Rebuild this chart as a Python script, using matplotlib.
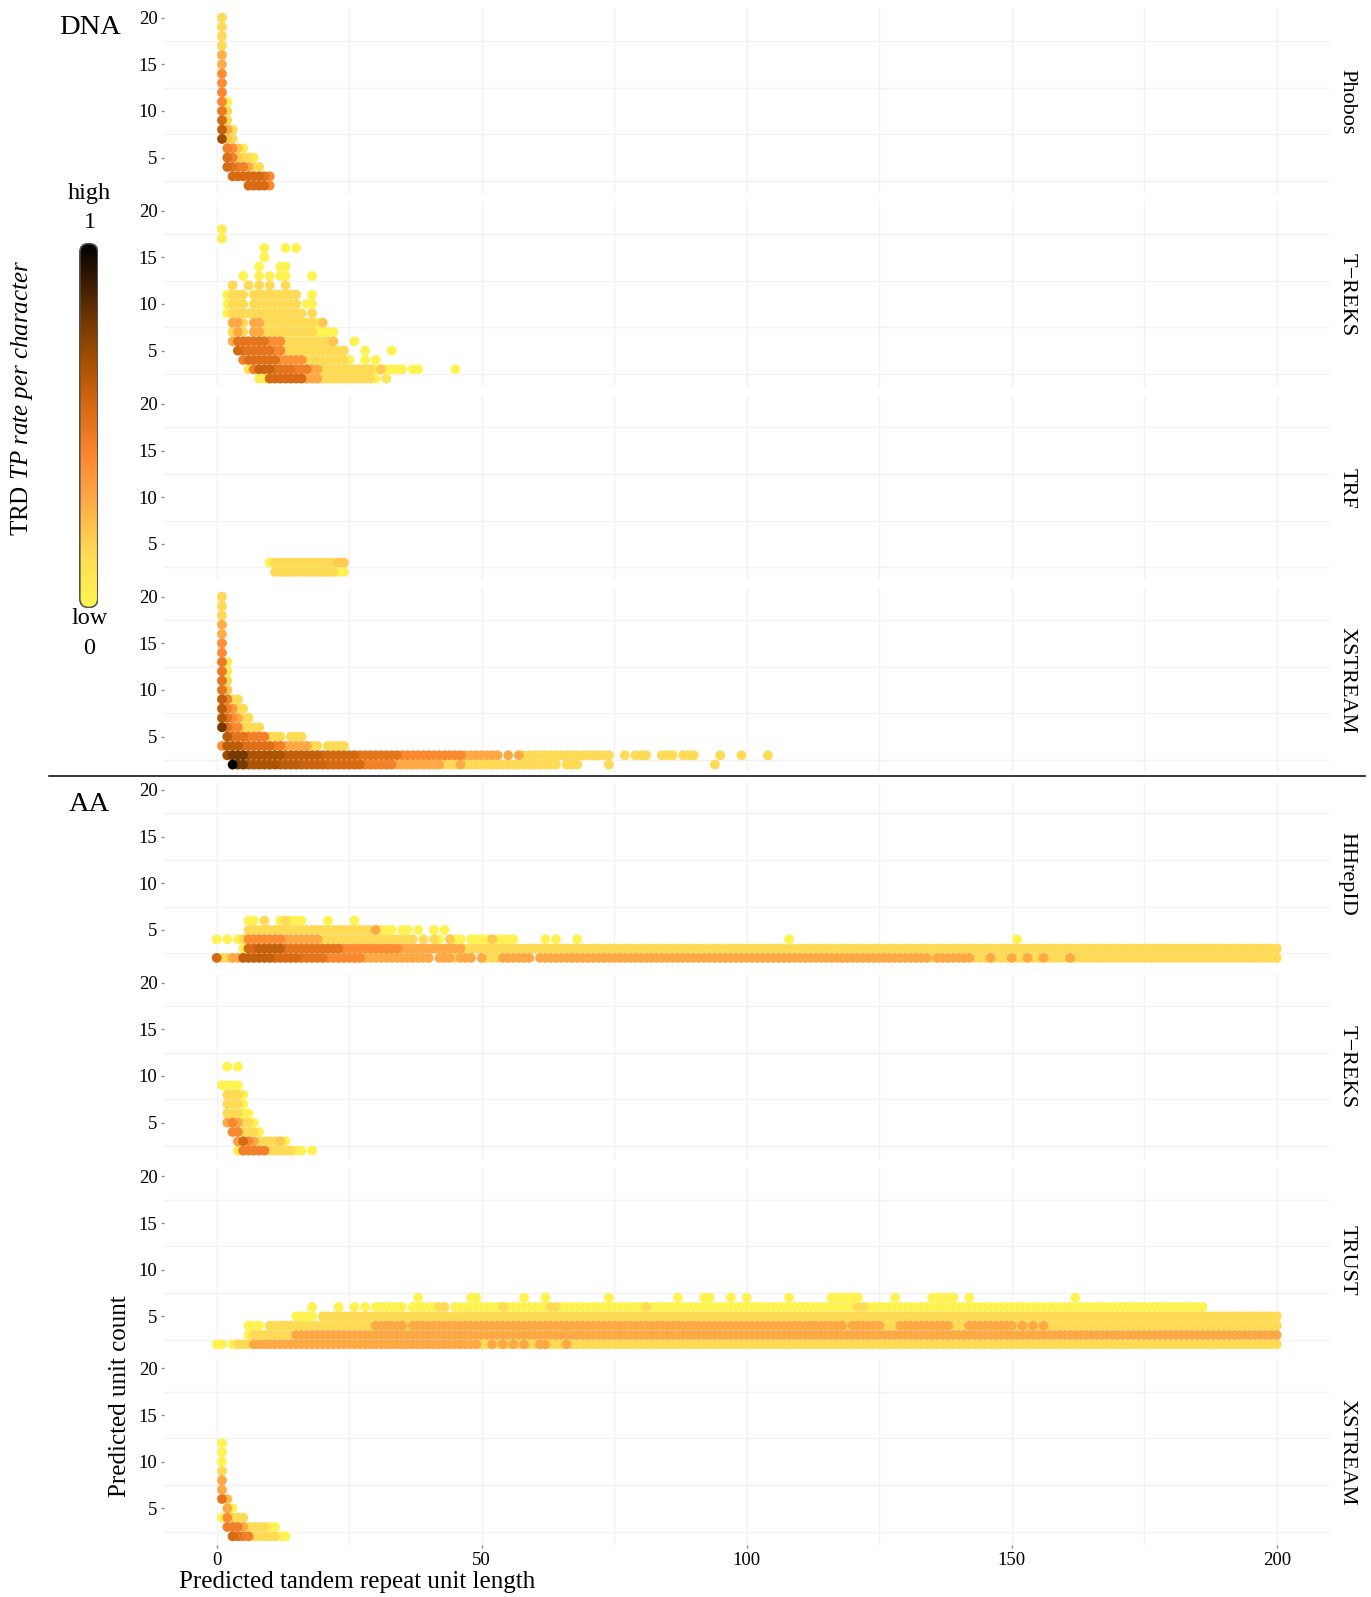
import numpy as np
import matplotlib
matplotlib.use("Agg")
import matplotlib.pyplot as plt
from matplotlib.colors import LinearSegmentedColormap
from matplotlib.patches import FancyBboxPatch
from matplotlib.lines import Line2D

plt.rcParams['font.family'] = ['Liberation Serif', 'DejaVu Serif']
plt.rcParams['mathtext.fontset'] = 'custom'
plt.rcParams['mathtext.rm'] = 'Liberation Serif'
plt.rcParams['mathtext.it'] = 'Liberation Serif:italic'

# each run: (unit count, first unit length, last unit length, TP rate)
phobos_dna = [
    (20, 1, 1, .15), (19, 1, 1, .15), (18, 1, 1, .15), (17, 1, 1, .15),
    (16, 1, 1, .28), (15, 1, 1, .28), (14, 1, 1, .4), (13, 1, 1, .4),
    (12, 1, 1, .42), (11, 1, 1, .42), (11, 2, 2, .02),
    (10, 1, 1, .48), (10, 2, 2, .15), (9, 1, 1, .55), (9, 2, 2, .15),
    (8, 1, 1, .6), (8, 2, 2, .3), (8, 3, 3, .15),
    (7, 1, 1, .68), (7, 2, 2, .22), (7, 3, 3, .15),
    (6, 2, 2, .45), (6, 3, 3, .4), (6, 4, 4, .2), (6, 5, 5, .05),
    (5, 2, 2, .52), (5, 3, 3, .45), (5, 4, 4, .2), (5, 5, 6, .15), (5, 7, 7, .05),
    (4, 2, 2, .55), (4, 3, 3, .5), (4, 4, 5, .45), (4, 6, 6, .3), (4, 7, 8, .15),
    (3, 3, 8, .55), (3, 9, 9, .5), (3, 10, 10, .42),
    (2, 6, 9, .55), (2, 10, 10, .42),
]
treks_dna = [
    (18, 1, 1, .05), (17, 1, 1, .05),
    (16, 9, 9, .02), (16, 13, 13, .02), (16, 15, 15, .02), (15, 9, 9, .02),
    (14, 8, 8, .02), (14, 12, 13, .02),
    (13, 5, 5, .02), (13, 8, 8, .02), (13, 10, 10, .02), (13, 12, 13, .02), (13, 18, 18, .02),
    (12, 3, 3, .15), (12, 6, 6, .15), (12, 8, 8, .15), (12, 10, 10, .15), (12, 13, 13, .15),
    (11, 2, 2, .02), (11, 3, 5, .15), (11, 7, 15, .15), (11, 18, 18, .02),
    (10, 2, 2, .02), (10, 3, 5, .15), (10, 7, 15, .15), (10, 17, 18, .02),
    (9, 2, 2, .02), (9, 3, 16, .15), (9, 18, 18, .15),
    (8, 3, 4, .3), (8, 5, 5, .15), (8, 7, 8, .3), (8, 9, 18, .15), (8, 19, 19, .02), (8, 20, 20, .2),
    (7, 3, 3, .15), (7, 4, 4, .3), (7, 5, 5, .15), (7, 7, 8, .3), (7, 9, 18, .15), (7, 19, 22, .02),
    (6, 3, 3, .28), (6, 4, 9, .5), (6, 10, 12, .4), (6, 13, 21, .15), (6, 22, 22, .22), (6, 26, 26, .02),
    (5, 4, 4, .55), (5, 5, 10, .5), (5, 11, 12, .42), (5, 13, 24, .15), (5, 28, 28, .02), (5, 33, 33, .02),
    (4, 5, 5, .45), (4, 6, 11, .52), (4, 12, 16, .38), (4, 17, 24, .15), (4, 25, 25, .02),
    (4, 28, 28, .02), (4, 30, 30, .02),
    (3, 6, 6, .1), (3, 7, 7, .45), (3, 8, 10, .58), (3, 11, 14, .5), (3, 15, 17, .45), (3, 18, 19, .3),
    (3, 20, 29, .15), (3, 30, 30, .02), (3, 31, 31, .2), (3, 32, 35, .02), (3, 37, 38, .02), (3, 45, 45, .02),
    (2, 8, 9, .05), (2, 10, 16, .55), (2, 17, 19, .3), (2, 20, 29, .15), (2, 30, 30, .02), (2, 32, 32, .1),
]
trf_dna = [
    (3, 10, 10, .02), (3, 11, 22, .15), (3, 23, 24, .2),
    (2, 11, 22, .15), (2, 23, 24, .02),
]
xstream_dna = [
    (20, 1, 1, .15), (19, 1, 1, .15), (18, 1, 1, .15), (17, 1, 1, .28), (16, 1, 1, .28),
    (15, 1, 1, .38), (14, 1, 1, .4),
    (13, 1, 1, .48), (13, 2, 2, .05), (12, 1, 1, .48), (12, 2, 2, .05),
    (11, 1, 1, .5), (11, 2, 2, .15), (10, 1, 1, .5), (10, 2, 2, .2),
    (9, 1, 1, .6), (9, 2, 2, .45), (9, 3, 4, .15),
    (8, 1, 1, .62), (8, 2, 2, .45), (8, 3, 3, .35), (8, 4, 5, .15),
    (7, 1, 1, .64), (7, 2, 2, .5), (7, 3, 3, .4), (7, 4, 4, .3), (7, 5, 6, .15),
    (6, 1, 1, .78), (6, 2, 2, .5), (6, 3, 4, .42), (6, 5, 8, .15),
    (5, 2, 2, .62), (5, 3, 5, .5), (5, 6, 9, .45), (5, 10, 12, .15), (5, 14, 16, .15),
    (4, 1, 1, .4), (4, 2, 4, .62), (4, 5, 10, .52), (4, 11, 12, .45), (4, 13, 17, .3),
    (4, 18, 19, .15), (4, 21, 24, .15),
    (3, 2, 2, .7), (3, 3, 5, .78), (3, 6, 12, .66), (3, 13, 19, .6), (3, 20, 26, .56),
    (3, 27, 34, .5), (3, 35, 46, .42), (3, 47, 53, .3), (3, 55, 55, .3), (3, 57, 57, .3),
    (3, 58, 74, .15), (3, 77, 77, .15), (3, 79, 81, .15), (3, 84, 86, .15), (3, 88, 90, .15),
    (3, 95, 95, .15), (3, 99, 99, .15), (3, 104, 104, .15),
    (2, 3, 3, 1.0), (2, 4, 5, .78), (2, 6, 11, .66), (2, 12, 15, .62), (2, 16, 20, .58),
    (2, 21, 27, .55), (2, 28, 33, .45), (2, 34, 42, .3), (2, 43, 45, .15), (2, 46, 46, .3),
    (2, 47, 60, .15), (2, 61, 64, .15), (2, 66, 68, .15), (2, 74, 74, .15), (2, 94, 94, .15),
]
hhrepid_aa = [
    (2, 0, 0, .55), (2, 1, 2, .15), (2, 3, 4, .3), (2, 5, 10, .6), (2, 11, 15, .55),
    (2, 16, 20, .5), (2, 21, 27, .42), (2, 28, 40, .3), (2, 42, 44, .3), (2, 45, 45, .15),
    (2, 46, 48, .3), (2, 50, 50, .3), (2, 51, 53, .15), (2, 54, 59, .3), (2, 61, 61, .3),
    (2, 62, 134, .3), (2, 135, 135, .15), (2, 136, 142, .3), (2, 143, 145, .15), (2, 146, 146, .3),
    (2, 147, 149, .15), (2, 150, 150, .3), (2, 151, 152, .15), (2, 153, 153, .3), (2, 154, 155, .15),
    (2, 156, 156, .3), (2, 157, 160, .15), (2, 161, 161, .3), (2, 162, 200, .15),
    (3, 5, 5, .05), (3, 6, 7, .55), (3, 8, 12, .6), (3, 13, 23, .5), (3, 24, 34, .4),
    (3, 35, 46, .3), (3, 47, 200, .15),
    (4, 0, 0, .02), (4, 2, 2, .02), (4, 4, 4, .02), (4, 5, 5, .15), (4, 6, 12, .4), (4, 13, 19, .3),
    (4, 20, 37, .15), (4, 39, 39, .15), (4, 41, 41, .15), (4, 42, 42, .02), (4, 44, 44, .2),
    (4, 45, 46, .02), (4, 48, 51, .02), (4, 52, 52, .2), (4, 53, 56, .02), (4, 62, 62, .02),
    (4, 64, 64, .02), (4, 68, 68, .02), (4, 108, 108, .02), (4, 151, 151, .02),
    (5, 6, 29, .15), (5, 30, 30, .3), (5, 31, 33, .02), (5, 35, 36, .02), (5, 38, 38, .02),
    (5, 41, 41, .02), (5, 43, 43, .02),
    (6, 6, 7, .02), (6, 9, 9, .15), (6, 12, 12, .02), (6, 13, 13, .15), (6, 14, 16, .02),
    (6, 21, 21, .02), (6, 26, 26, .02),
]
treks_aa = [
    (11, 2, 2, .02), (11, 4, 4, .02), (9, 1, 4, .02),
    (8, 2, 4, .15), (8, 5, 5, .02), (7, 2, 4, .15), (7, 5, 5, .02),
    (6, 2, 4, .15), (6, 5, 6, .02),
    (5, 2, 2, .3), (5, 3, 3, .42), (5, 4, 4, .3), (5, 5, 6, .15), (5, 7, 7, .02),
    (4, 3, 4, .42), (4, 5, 7, .15), (4, 8, 8, .02),
    (3, 4, 4, .35), (3, 5, 5, .55), (3, 6, 6, .42), (3, 7, 7, .3), (3, 8, 11, .15),
    (3, 12, 12, .2), (3, 13, 13, .02),
    (2, 4, 4, .05), (2, 5, 9, .45), (2, 10, 14, .15), (2, 15, 16, .02), (2, 18, 18, .02),
]
trust_aa = [
    (2, 0, 1, .02), (2, 3, 3, .02), (2, 4, 6, .15), (2, 7, 48, .3), (2, 49, 49, .3),
    (2, 50, 51, .15), (2, 52, 52, .3), (2, 53, 53, .15), (2, 54, 54, .3), (2, 55, 55, .15),
    (2, 56, 56, .3), (2, 57, 57, .15), (2, 58, 58, .3), (2, 59, 60, .15), (2, 61, 62, .3),
    (2, 63, 65, .15), (2, 66, 66, .3), (2, 67, 200, .15),
    (3, 6, 6, .02), (3, 7, 14, .15), (3, 15, 200, .3),
    (4, 6, 8, .02), (4, 10, 29, .15), (4, 30, 35, .3), (4, 36, 36, .15), (4, 37, 118, .3),
    (4, 119, 119, .15), (4, 120, 125, .3), (4, 126, 128, .15), (4, 129, 138, .3), (4, 139, 141, .15),
    (4, 142, 150, .3), (4, 151, 151, .15), (4, 152, 152, .3), (4, 153, 153, .15), (4, 154, 154, .3),
    (4, 155, 155, .15), (4, 156, 156, .3), (4, 157, 200, .15),
    (5, 15, 18, .02), (5, 20, 200, .15),
    (6, 18, 18, .02), (6, 23, 23, .02), (6, 26, 26, .02), (6, 28, 28, .02), (6, 30, 35, .02),
    (6, 37, 41, .02), (6, 42, 43, .15), (6, 45, 53, .02), (6, 54, 54, .15), (6, 55, 62, .02),
    (6, 63, 64, .15), (6, 65, 80, .02), (6, 81, 81, .15), (6, 82, 120, .02), (6, 121, 122, .15),
    (6, 123, 186, .02),
    (7, 38, 38, .02), (7, 48, 49, .02), (7, 58, 58, .02), (7, 62, 62, .02), (7, 74, 74, .02),
    (7, 87, 87, .02), (7, 92, 93, .02), (7, 97, 97, .02), (7, 100, 100, .02), (7, 108, 108, .02),
    (7, 116, 121, .02), (7, 128, 128, .02), (7, 135, 139, .02), (7, 142, 142, .02), (7, 162, 162, .02),
]
xstream_aa = [
    (12, 1, 1, .02), (11, 1, 1, .02), (10, 1, 1, .02), (9, 1, 1, .15), (8, 1, 1, .3), (7, 1, 1, .3),
    (6, 1, 1, .5), (6, 2, 2, .25), (5, 2, 2, .3), (5, 3, 3, .02),
    (4, 1, 1, .02), (4, 2, 2, .4), (4, 3, 5, .15),
    (3, 2, 4, .45), (3, 5, 5, .3), (3, 6, 9, .15), (3, 10, 11, .02),
    (2, 3, 3, .55), (2, 4, 4, .5), (2, 5, 6, .45), (2, 7, 11, .15), (2, 12, 13, .02),
]

panels = [phobos_dna, treks_dna, trf_dna, xstream_dna, hhrepid_aa, treks_aa, trust_aa, xstream_aa]
strip_labels = ["Phobos", "T\u2212REKS", "TRF", "XSTREAM", "HHrepID", "T\u2212REKS", "TRUST", "XSTREAM"]
panel_tops = [9.3, 202.3, 395.6, 588.3, 781.6, 974.3, 1168, 1360]

cmap = LinearSegmentedColormap.from_list("tp", [
    (0, '#FFF650'), (0.15, '#FFDA55'), (0.3, '#FFA845'), (0.4, '#FF8C33'),
    (0.55, '#D86A12'), (0.67, '#A85200'), (0.8, '#6E3500'), (1, '#000000')])

W, H = 1371, 1597
fig = plt.figure(figsize=(W / 100, H / 100), dpi=100)
grid_col = '#F2F2F2'


def expand(runs):
    xs, ys, vs = [], [], []
    for y, x0, x1, v in runs:
        for x in range(x0, x1 + 1):
            xs.append(x)
            ys.append(y)
            vs.append(v)
    order = np.argsort(vs, kind='stable')
    return np.array(xs)[order], np.array(ys)[order], np.array(vs)[order]


left, width, ph = 163.7, 1166, 184.7
for i, runs in enumerate(panels):
    top = panel_tops[i]
    ax = fig.add_axes([left / W, 1 - (top + ph) / H, width / W, ph / H])
    ax.set_xlim(-10, 210)
    ax.set_ylim(1.1, 20.9)
    for s in ax.spines.values():
        s.set_visible(False)
    for gx in range(0, 201, 25):
        ax.axvline(gx, color=grid_col, lw=1.0, zorder=0)
    for gy in [2.5, 7.5, 12.5, 17.5]:
        ax.axhline(gy, color=grid_col, lw=1.0, zorder=0)
    xs, ys, vs = expand(runs)
    ax.scatter(xs, ys, c=vs, cmap=cmap, vmin=0, vmax=1, s=50, linewidths=0, zorder=2)
    ax.set_yticks([5, 10, 15, 20])
    ax.set_yticklabels(['5', '10', '15', '20'])
    ax.tick_params(axis='y', length=2.5, width=1, color='#888888', pad=2, labelsize=13.5)
    if i == 7:
        ax.set_xticks([0, 50, 100, 150, 200])
        ax.tick_params(axis='x', length=2.5, width=1, color='#888888', pad=3, labelsize=13.5)
    else:
        ax.set_xticks([])
    fig.text(1346.6 / W, 1 - (top + ph / 2) / H, strip_labels[i], rotation=-90,
             ha='center', va='center', fontsize=16)

# colour bar with rounded ends
cax = fig.add_axes([79.3 / W, 1 - 608 / H, 19 / W, 365 / H])
cax.set_xlim(0, 19)
cax.set_ylim(0, 365)
cax.axis('off')
grad = np.linspace(0, 1, 256).reshape(-1, 1)
im = cax.imshow(grad, cmap=cmap, origin='lower', extent=[0, 19, 0, 365], aspect='auto')
box = FancyBboxPatch((0.5, 0.5), 18, 364, boxstyle="round,pad=0,rounding_size=9",
                     fc='none', ec='#555555', lw=1.2)
cax.add_patch(box)
im.set_clip_path(box)

fig.text(89.6 / W, 1 - 193.5 / H, "high", ha='center', va='center', fontsize=17.5)
fig.text(89.6 / W, 1 - 222 / H, "1", ha='center', va='center', fontsize=17.5)
fig.text(89.6 / W, 1 - 618 / H, "low", ha='center', va='center', fontsize=17.5)
fig.text(89.6 / W, 1 - 648 / H, "0", ha='center', va='center', fontsize=17.5)

fig.text(89.6 / W, 1 - 27.5 / H, "DNA", ha='center', va='center', fontsize=20.5)
fig.text(89.6 / W, 1 - 804.7 / H, "AA", ha='center', va='center', fontsize=20.5)

fig.text(22.4 / W, 1 - 398 / H, r"TRD $\mathit{TP\ rate\ per\ character}$", rotation=90,
         ha='center', va='center', fontsize=18)
fig.text(120 / W, 1 - 1396.5 / H, "Predicted unit count", rotation=90,
         ha='center', va='center', fontsize=18)
fig.text(179 / W, 1 - 1582 / H, "Predicted tandem repeat unit length",
         ha='left', va='center', fontsize=18)

fig.add_artist(Line2D([49 / W, 1365 / W], [1 - 776 / H, 1 - 776 / H], color='black', lw=1.1))

fig.savefig("out.png", dpi=100)
